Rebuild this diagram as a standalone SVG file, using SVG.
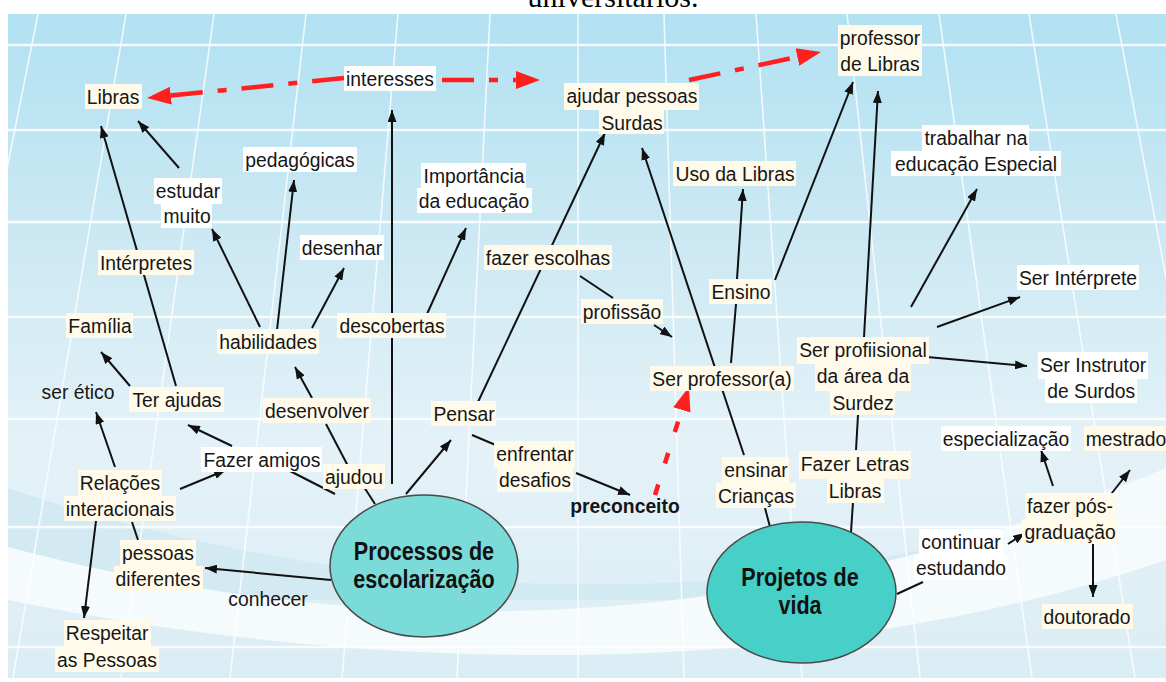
<svg xmlns="http://www.w3.org/2000/svg" width="1166" height="682" viewBox="0 0 1166 682">
<defs>
<linearGradient id="bg" x1="0" y1="14" x2="0" y2="678" gradientUnits="userSpaceOnUse">
<stop offset="0" stop-color="#b1e1f2"/>
<stop offset="0.35" stop-color="#cde9f3"/>
<stop offset="0.65" stop-color="#e4f2f8"/>
<stop offset="1" stop-color="#dbedf4"/>
</linearGradient>
<clipPath id="clip"><rect x="8" y="14" width="1158" height="664"/></clipPath>
<marker id="ah" markerUnits="userSpaceOnUse" viewBox="0 0 12 9" markerWidth="12" markerHeight="9" refX="12" refY="4.5" orient="auto"><path d="M0,0 L12,4.5 L0,9 Z" fill="#111"/></marker>
<marker id="rh" markerUnits="userSpaceOnUse" viewBox="0 0 24 20" markerWidth="24" markerHeight="20" refX="18" refY="10" orient="auto"><path d="M0,1 L24,10 L0,19 Z" fill="#ff1f1f"/></marker>
</defs>
<style>
.t{font-family:"Liberation Sans",Arial,sans-serif;font-size:21px;fill:#161616;text-anchor:middle}
.b{font-weight:bold}
.e{font-family:"Liberation Sans",Arial,sans-serif;font-size:26px;font-weight:bold;fill:#111;text-anchor:middle}
.c{fill:#fffaea}
.w{fill:#ffffff}
.k{stroke:#111;stroke-width:2;fill:none}
.ka{stroke:#111;stroke-width:2;fill:none;marker-end:url(#ah)}
.r{stroke:#ff1f1f;stroke-width:4.5;fill:none;stroke-dasharray:32 15 9 15;marker-end:url(#rh)}
.rd{stroke:#ff1f1f;stroke-width:4.5;fill:none;stroke-dasharray:11 22;marker-end:url(#rh)}
.gh{stroke:#ffffff;stroke-width:2.5;opacity:0.85}
.gv{stroke:#ffffff;stroke-width:1.6;opacity:0.8}
.ell{stroke:#4a4a4a;stroke-width:1.5}
</style>
<text x="613" y="7" font-family="'Liberation Serif','Times New Roman',serif" font-size="30" text-anchor="middle" fill="#000">universitários.</text>
<g id="background" clip-path="url(#clip)">
<rect x="8" y="14" width="1158" height="664" fill="url(#bg)"/>
<path d="M8,488 C280,580 650,630 1010,528 L1010,600 L8,600 Z" fill="#d4eaf2"/>
<path d="M8,547 C300,625 700,665 1166,468 L1166,560 C760,700 300,660 8,600 Z" fill="#f5fafc"/>
<g class="gh">
<line x1="8" y1="45" x2="1166" y2="45"/><line x1="8" y1="130" x2="1166" y2="130"/><line x1="8" y1="222" x2="1166" y2="222"/><line x1="8" y1="317" x2="1166" y2="317"/><line x1="8" y1="419" x2="1166" y2="419"/><line x1="8" y1="527" x2="1166" y2="527"/><line x1="8" y1="647" x2="1166" y2="647"/>
</g>
<g class="gv">
<line x1="38" y1="14" x2="-95" y2="678"/><line x1="126" y1="14" x2="13" y2="678"/><line x1="214" y1="14" x2="121" y2="678"/><line x1="306" y1="14" x2="230" y2="678"/><line x1="398" y1="14" x2="342" y2="678"/><line x1="490" y1="14" x2="457" y2="678"/><line x1="578" y1="14" x2="578" y2="678"/><line x1="664" y1="14" x2="684" y2="678"/><line x1="756" y1="14" x2="802" y2="678"/><line x1="847" y1="14" x2="920" y2="678"/><line x1="939" y1="14" x2="1032" y2="678"/><line x1="1029" y1="14" x2="1135" y2="678"/><line x1="1116" y1="14" x2="1242" y2="678"/>
</g>
</g>
<g id="connectors">
<path class="ka" d="M176,386 L101,126"/>
<path class="ka" d="M179,168 L138,121"/>
<path class="ka" d="M260,327 L212,229"/>
<path class="ka" d="M277,330 L294,180"/>
<path class="ka" d="M312,328 L344,268"/>
<path class="ka" d="M312,398 L295,367"/>
<path class="k" d="M348,466 L326,424"/>
<path class="k" d="M375,504 L364,487"/>
<path class="k" d="M335,494 L290,471"/>
<path class="ka" d="M232,446 L188,425"/>
<path class="ka" d="M180,489 L226,470"/>
<path class="ka" d="M115,467 L96,412"/>
<path class="ka" d="M130,386 L101,352"/>
<path class="ka" d="M96,521 L84,618"/>
<path class="k" d="M132,522 L138,540"/>
<path class="ka" d="M331,580 L205,568"/>
<path class="ka" d="M392,484 L392,110"/>
<path class="ka" d="M427,314 L466,228"/>
<path class="ka" d="M406,494 L451,440"/>
<path class="ka" d="M478,402 L605,133"/>
<path class="k" d="M472,435 L498,446"/>
<path class="ka" d="M576,473 L630,495"/>
<path class="k" d="M580,276 L613,298"/>
<path class="ka" d="M654,325 L672,337"/>
<path class="k" d="M731,363 L736,304"/>
<path class="ka" d="M737,279 L743,189"/>
<path class="ka" d="M775,280 L853,82"/>
<path class="ka" d="M744,455 L642,148"/>
<path class="k" d="M770,527 L765,508"/>
<path class="k" d="M851,532 L853,502"/>
<path class="k" d="M856,450 L858,415"/>
<path class="ka" d="M864,337 L878,91"/>
<path class="ka" d="M911,307 L977,189"/>
<path class="ka" d="M937,327 L1020,297"/>
<path class="ka" d="M927,357 L1027,366"/>
<path class="k" d="M897,594 L923,582"/>
<path class="ka" d="M1008,544 L1025,533"/>
<path class="ka" d="M1053,486 L1041,450"/>
<path class="ka" d="M1108,498 L1130,470"/>
<path class="ka" d="M1093,543 L1093,597"/>
<path class="r" d="M344,78 L153,97.4"/>
<path class="r" d="M442,80 L534,80"/>
<path class="r" d="M689,80 L815,53.2"/>
<path class="rd" d="M655,495 L687.2,392.7"/>
</g>
<g id="n-libras"><rect class="c" x="85" y="84" width="57" height="25"/><text class="t" transform="translate(113,104) scale(0.92,1)">Libras</text></g>
<g id="n-interesses"><rect class="w" x="344" y="66" width="92" height="25"/><text class="t" transform="translate(390,86) scale(0.92,1)">interesses</text></g>
<g id="n-ajudar"><rect class="c" x="564" y="83" width="135" height="27"/><rect class="c" x="599" y="109" width="65" height="25"/><text class="t" transform="translate(632,103) scale(0.92,1)"><tspan x="0">ajudar pessoas</tspan><tspan x="0" dy="27">Surdas</tspan></text></g>
<g id="n-professor-libras"><rect class="c" x="838" y="25" width="84" height="51"/><text class="t" transform="translate(880,45) scale(0.92,1)"><tspan x="0">professor</tspan><tspan x="0" dy="26">de Libras</tspan></text></g>
<g id="n-pedagogicas"><rect class="w" x="243" y="147" width="114" height="25"/><text class="t" transform="translate(300,167) scale(0.92,1)">pedagógicas</text></g>
<g id="n-estudar"><rect class="w" x="154" y="178" width="68" height="26"/><rect class="w" x="161" y="203" width="51" height="25"/><text class="t" transform="translate(188,198) scale(0.92,1)"><tspan x="0">estudar</tspan><tspan x="-1" dy="25">muito</tspan></text></g>
<g id="n-importancia"><rect class="w" x="421" y="163" width="105" height="26"/><rect class="w" x="417" y="188" width="115" height="25"/><text class="t" transform="translate(474,183) scale(0.92,1)"><tspan x="0">Importância</tspan><tspan x="0" dy="25">da educação</tspan></text></g>
<g id="n-uso"><rect class="c" x="673" y="161" width="123" height="25"/><text class="t" transform="translate(735,181) scale(0.92,1)">Uso da Libras</text></g>
<g id="n-trabalhar"><rect class="w" x="922" y="125" width="107" height="27"/><rect class="w" x="891" y="151" width="170" height="25"/><text class="t" transform="translate(976,145) scale(0.92,1)"><tspan x="0">trabalhar na</tspan><tspan x="0" dy="26">educação Especial</tspan></text></g>
<g id="n-desenhar"><rect class="w" x="300" y="235" width="84" height="25"/><text class="t" transform="translate(342,255) scale(0.92,1)">desenhar</text></g>
<g id="n-interpretes"><rect class="c" x="98" y="250" width="96" height="25"/><text class="t" transform="translate(146,270) scale(0.92,1)">Intérpretes</text></g>
<g id="n-escolhas"><rect class="c" x="484" y="245" width="128" height="25"/><text class="t" transform="translate(548,265) scale(0.92,1)">fazer escolhas</text></g>
<g id="n-ensino"><rect class="c" x="709" y="279" width="63" height="25"/><text class="t" transform="translate(741,299) scale(0.92,1)">Ensino</text></g>
<g id="n-ser-interprete"><rect class="w" x="1017" y="265" width="122" height="25"/><text class="t" transform="translate(1078,285) scale(0.92,1)">Ser Intérprete</text></g>
<g id="n-familia"><rect class="c" x="66" y="313" width="67" height="25"/><text class="t" transform="translate(100,333) scale(0.92,1)">Família</text></g>
<g id="n-habilidades"><rect class="c" x="217" y="329" width="102" height="25"/><text class="t" transform="translate(268,349) scale(0.92,1)">habilidades</text></g>
<g id="n-descobertas"><rect class="c" x="337" y="313" width="109" height="25"/><text class="t" transform="translate(392,333) scale(0.92,1)">descobertas</text></g>
<g id="n-profissao"><rect class="c" x="581" y="299" width="82" height="25"/><text class="t" transform="translate(622,319) scale(0.92,1)">profissão</text></g>
<g id="n-ser-profissional"><rect class="c" x="797" y="337" width="132" height="27"/><rect class="c" x="815" y="363" width="96" height="28"/><rect class="c" x="830" y="390" width="65" height="25"/><text class="t" transform="translate(863,357) scale(0.92,1)"><tspan x="0">Ser profiisional</tspan><tspan x="0" dy="26">da área da</tspan><tspan x="0" dy="27">Surdez</tspan></text></g>
<g id="n-instrutor"><rect class="w" x="1038" y="352" width="110" height="27"/><rect class="w" x="1045" y="378" width="92" height="25"/><text class="t" transform="translate(1093,372) scale(0.92,1)"><tspan x="0">Ser Instrutor</tspan><tspan x="-2" dy="26">de Surdos</tspan></text></g>
<g id="n-ser-professor"><rect class="c" x="650" y="366" width="144" height="25"/><text class="t" transform="translate(722,386) scale(0.92,1)">Ser professor(a)</text></g>
<g id="n-etico"><text class="t" transform="translate(78,399) scale(0.92,1)">ser ético</text></g>
<g id="n-ter-ajudas"><rect class="c" x="129" y="387" width="95" height="25"/><text class="t" transform="translate(177,407) scale(0.92,1)">Ter ajudas</text></g>
<g id="n-desenvolver"><rect class="c" x="263" y="398" width="108" height="25"/><text class="t" transform="translate(317,418) scale(0.92,1)">desenvolver</text></g>
<g id="n-pensar"><rect class="c" x="431" y="401" width="65" height="25"/><text class="t" transform="translate(464,421) scale(0.92,1)">Pensar</text></g>
<g id="n-especializacao"><rect class="w" x="941" y="426" width="130" height="25"/><text class="t" transform="translate(1006,446) scale(0.92,1)">especialização</text></g>
<g id="n-mestrado"><rect class="c" x="1084" y="426" width="84" height="25"/><text class="t" transform="translate(1126,446) scale(0.92,1)">mestrado</text></g>
<g id="n-fazer-amigos"><rect class="w" x="201" y="447" width="121" height="25"/><text class="t" transform="translate(262,467) scale(0.92,1)">Fazer amigos</text></g>
<g id="n-ajudou"><rect class="c" x="323" y="464" width="62" height="25"/><text class="t" transform="translate(354,484) scale(0.92,1)">ajudou</text></g>
<g id="n-enfrentar"><rect class="c" x="494" y="441" width="81" height="27"/><rect class="c" x="497" y="467" width="76" height="25"/><text class="t" transform="translate(535,461) scale(0.92,1)"><tspan x="0">enfrentar</tspan><tspan x="0" dy="26">desafios</tspan></text></g>
<g id="n-relacoes"><rect class="c" x="78" y="470" width="84" height="27"/><rect class="c" x="64" y="496" width="112" height="25"/><text class="t" transform="translate(120,490) scale(0.92,1)"><tspan x="0">Relações</tspan><tspan x="0" dy="26">interacionais</tspan></text></g>
<g id="n-ensinar"><rect class="c" x="722" y="457" width="67" height="27"/><rect class="c" x="716" y="483" width="80" height="25"/><text class="t" transform="translate(756,477) scale(0.92,1)"><tspan x="0">ensinar</tspan><tspan x="0" dy="26">Crianças</tspan></text></g>
<g id="n-letras"><rect class="c" x="799" y="451" width="112" height="28"/><rect class="c" x="827" y="478" width="57" height="25"/><text class="t" transform="translate(855,471) scale(0.92,1)"><tspan x="0">Fazer Letras</tspan><tspan x="0" dy="27">Libras</tspan></text></g>
<g id="n-pos"><rect class="c" x="1025" y="493" width="90" height="27"/><rect class="c" x="1022" y="519" width="96" height="25"/><text class="t" transform="translate(1070,513) scale(0.92,1)"><tspan x="0">fazer pós-</tspan><tspan x="0" dy="26">graduação</tspan></text></g>
<g id="n-preconceito"><text class="t b" transform="translate(625,513) scale(0.92,1)">preconceito</text></g>
<g id="n-continuar"><rect class="w" x="919" y="529" width="84" height="27"/><rect class="w" x="914" y="555" width="94" height="25"/><text class="t" transform="translate(961,549) scale(0.92,1)"><tspan x="0">continuar</tspan><tspan x="0" dy="26">estudando</tspan></text></g>
<g id="n-pessoas"><rect class="c" x="120" y="540" width="76" height="27"/><rect class="c" x="114" y="566" width="89" height="25"/><text class="t" transform="translate(158,560) scale(0.92,1)"><tspan x="0">pessoas</tspan><tspan x="0" dy="26">diferentes</tspan></text></g>
<g id="n-conhecer"><text class="t" transform="translate(268,606) scale(0.92,1)">conhecer</text></g>
<g id="n-respeitar"><rect class="c" x="64" y="620" width="87" height="28"/><rect class="c" x="55" y="647" width="104" height="25"/><text class="t" transform="translate(107,640) scale(0.92,1)"><tspan x="0">Respeitar</tspan><tspan x="0" dy="27">as Pessoas</tspan></text></g>
<g id="n-doutorado"><rect class="c" x="1042" y="604" width="91" height="25"/><text class="t" transform="translate(1087,624) scale(0.92,1)">doutorado</text></g>
<g id="n-processos"><ellipse class="ell" cx="424" cy="566" rx="94" ry="71" fill="#7adbd8"/><text class="e" transform="translate(424,560) scale(0.83,1)"><tspan x="0">Processos de</tspan><tspan x="0" dy="28">escolarização</tspan></text></g>
<g id="n-projetos"><ellipse class="ell" cx="801.5" cy="592.5" rx="94.5" ry="70.5" fill="#47d0c8"/><text class="e" transform="translate(800,586) scale(0.83,1)"><tspan x="0">Projetos de</tspan><tspan x="0" dy="28">vida</tspan></text></g>
</svg>
